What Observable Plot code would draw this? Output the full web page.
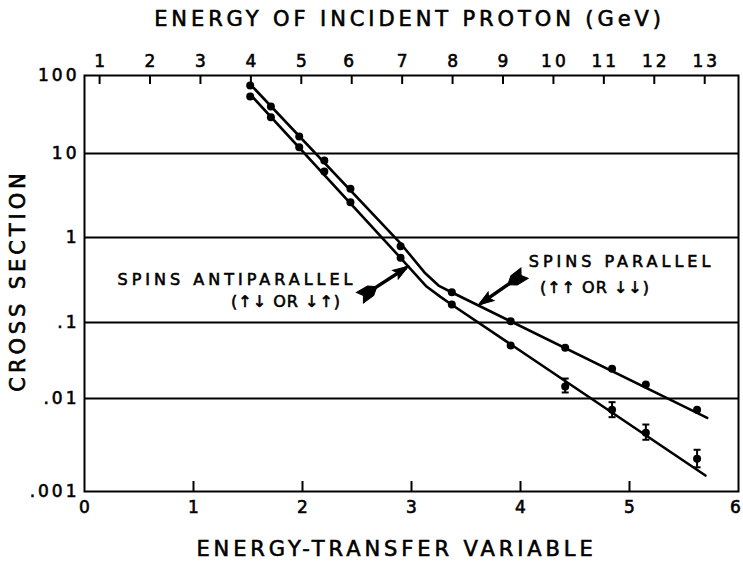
<!DOCTYPE html>
<html>
<head>
<meta charset="utf-8">
<script src="https://cdn.jsdelivr.net/npm/d3@7"></script>
<script src="https://cdn.jsdelivr.net/npm/@observablehq/plot@0.6"></script>
<style>
  html, body { margin: 0; padding: 0; background: #fff; }
  #chart svg { display: block; }
</style>
</head>
<body>
<div id="chart"></div>
<script>
// ---------- data ----------
// energy-transfer variable of each measured point (shared by both series)
const transfer = [1.52, 1.71, 1.97, 2.20, 2.44, 2.90, 3.37, 3.91, 4.41, 4.84, 5.15, 5.62];
// cross section, spins parallel (↑↑ or ↓↓)
const parallel = [74.5, 40.1, 16.5, 8.26, 3.80, 0.79, 0.227, 0.1035, 0.0465, 0.0246, 0.0153, 0.00755];
// cross section, spins antiparallel (↑↓ or ↓↑)
const antiparallel = [53.8, 29.2, 12.0, 6.1, 2.63, 0.577, 0.163, 0.0497, 0.0144, 0.00755, 0.00428, 0.00225];
// error bars on the antiparallel series (null = none drawn)
const antiErrLow  = [null, null, null, null, null, null, null, null, 0.0120, 0.0063, 0.0036, 0.00182];
const antiErrHigh = [null, null, null, null, null, null, null, null, 0.0183, 0.00913, 0.00525, 0.00281];

// hand-drawn fitted curves (knots)
const parallelFitX = [1.514, 2.908, 3.119, 3.248, 3.367, 5.713];
const parallelFitY = [78.9, 0.828, 0.388, 0.272, 0.227, 0.0062];
const antiFitX = [1.529, 2.899, 3.138, 3.266, 3.367, 5.697];
const antiFitY = [55.5, 0.577, 0.265, 0.200, 0.163, 0.001485];

// axes
const xTicks = [0, 1, 2, 3, 4, 5, 6];
const energyTicks = [1, 2, 3, 4, 5, 6, 7, 8, 9, 10, 11, 12, 13];
const energyCalib = [0.1385, 5.69]; // transfer-variable positions of 1 GeV and 13 GeV
const yDecades = [0.001, 0.01, 0.1, 1, 10, 100];
const yTickLabels = [".001", ".01", ".1", "1", "10", "100"];
const gridValues = [10, 1, 0.1, 0.01];

// text
const topTitle = "ENERGY OF INCIDENT PROTON (GeV)";
const bottomTitle = "ENERGY-TRANSFER VARIABLE";
const leftTitle = "CROSS SECTION";
const annotationText = ["SPINS ANTIPARALLEL", "(↑↓ OR ↓↑)", "SPINS PARALLEL", "(↑↑ OR ↓↓)"];
const annotationX = [1.399, 1.849, 4.927, 4.683];
const annotationY = [0.321, 0.174, 0.515, 0.255];
// pointer arrows (tail -> head)
const arrowTailX = [2.514, 4.046];
const arrowTailY = [0.191, 0.388];
const arrowHeadX = [2.954, 3.633];
const arrowHeadY = [0.444, 0.167];

// ---------- build ----------
const xDomain = [0, 6];
const yRange = [491, 398, 322, 237, 153, 75];
const margins = {left: 84, right: 5, top: 75, bottom: 70};
const W = 743, H = 561;

const energyScale = d3.scaleLinear().domain([1, 13]).range(energyCalib);
// mirrors of Plot's scales, only to orient the arrow glyphs
const xs = d3.scaleLinear(xDomain, [margins.left, W - margins.right]);
const ys = d3.scaleLog(yDecades, yRange);

const parPts = transfer.map((x, i) => ({x, y: parallel[i]}));
const antiPts = transfer.map((x, i) => ({x, y: antiparallel[i], lo: antiErrLow[i], hi: antiErrHigh[i]}));
const errPts = antiPts.filter(d => d.lo != null);
const parFit = parallelFitX.map((x, i) => ({x, y: parallelFitY[i]}));
const antiFit = antiFitX.map((x, i) => ({x, y: antiFitY[i]}));
const notes = annotationText.map((t, i) => ({t, x: annotationX[i], y: annotationY[i]}));
const arrows = arrowTailX.map((x, i) => {
  const a = {x1: x, y1: arrowTailY[i], x2: arrowHeadX[i], y2: arrowHeadY[i]};
  const dx = xs(a.x2) - xs(a.x1), dy = ys(a.y2) - ys(a.y1);
  a.angle = Math.atan2(dx, -dy) * 180 / Math.PI;
  return a;
});
const lerp = (a, t) => ({
  x: a.x1 + t * (a.x2 - a.x1),
  y: Math.exp(Math.log(a.y1) + t * (Math.log(a.y2) - Math.log(a.y1))),
  angle: a.angle
});
const shafts = arrows.map(a => {
  const p = lerp(a, 0.12);
  return {x1: p.x, y1: p.y, x2: a.x2, y2: a.y2};
});
const feathers = arrows.map(a => lerp(a, 0.2));
const heads = arrows.map(a => lerp(a, 0.86));

const capSymbol = {
  draw(ctx, size) {
    const r = Math.sqrt(size / Math.PI);
    ctx.moveTo(-r, 0);
    ctx.lineTo(r, 0);
  }
};
const headSymbol = {
  draw(ctx, size) {
    const r = Math.sqrt(size / Math.PI);
    ctx.moveTo(0, -r * 1.6);
    ctx.lineTo(r * 0.8, r * 0.8);
    ctx.lineTo(0, r * 0.35);
    ctx.lineTo(-r * 0.8, r * 0.8);
    ctx.closePath();
  }
};
const featherSymbol = {
  draw(ctx, size) {
    const r = Math.sqrt(size / Math.PI);
    ctx.moveTo(0, -r * 1.4);
    ctx.lineTo(r * 0.75, -r * 0.4);
    ctx.lineTo(r * 0.85, r * 1.3);
    ctx.lineTo(0, r * 0.75);
    ctx.lineTo(-r * 0.85, r * 1.3);
    ctx.lineTo(-r * 0.75, -r * 0.4);
    ctx.closePath();
  }
};

const FONT = "DejaVu Sans";

const chart = Plot.plot({
  width: W,
  height: H,
  marginLeft: margins.left,
  marginRight: margins.right,
  marginTop: margins.top,
  marginBottom: margins.bottom,
  style: {fontFamily: FONT, background: "white", color: "black"},
  x: {domain: xDomain},
  y: {type: "log", domain: yDecades, range: yRange},
  marks: [
    Plot.ruleY(gridValues, {stroke: "black", strokeWidth: 2}),
    Plot.frame({stroke: "black", strokeWidth: 2}),
    Plot.tickX(xTicks.slice(1, -1), {x: d => d, insetTop: 406, stroke: "black", strokeWidth: 2}),
    Plot.tickX(energyTicks, {x: d => energyScale(d), insetBottom: 407, stroke: "black", strokeWidth: 2}),
    Plot.axisX(xTicks, {anchor: "bottom", tickSize: 0, tickPadding: 9, fontSize: 17, dx: 1.5, label: null}),
    Plot.axisX(energyTicks.map(e => energyScale(e)), {
      anchor: "top", tickSize: 0, tickPadding: 9, fontSize: 17, dx: 1.5, label: null,
      tickFormat: d => String(Math.round(energyScale.invert(d)))
    }),
    Plot.axisY(yDecades, {
      anchor: "left", tickSize: 0, tickPadding: 5, fontSize: 17, label: null,
      tickFormat: d => yTickLabels[yDecades.indexOf(d)]
    }),
    // fitted curves
    Plot.line(parFit, {x: "x", y: "y", stroke: "black", strokeWidth: 2.6}),
    Plot.line(antiFit, {x: "x", y: "y", stroke: "black", strokeWidth: 2.6}),
    // error bars
    Plot.ruleX(errPts, {x: "x", y1: "lo", y2: "hi", stroke: "black", strokeWidth: 2}),
    Plot.dot(errPts, {x: "x", y: "lo", symbol: capSymbol, r: 3.5, stroke: "black", strokeWidth: 2}),
    Plot.dot(errPts, {x: "x", y: "hi", symbol: capSymbol, r: 3.5, stroke: "black", strokeWidth: 2}),
    // measured points
    Plot.dot(parPts, {x: "x", y: "y", r: 4, fill: "black"}),
    Plot.dot(antiPts, {x: "x", y: "y", r: 4, fill: "black"}),
    // pointer arrows (shaft, feathered tail, head)
    Plot.link(shafts, {x1: "x1", y1: "y1", x2: "x2", y2: "y2", stroke: "black", strokeWidth: 3.5}),
    Plot.dot(feathers, {x: "x", y: "y", symbol: featherSymbol, r: 7.5, rotate: "angle", fill: "black", stroke: "black", strokeWidth: 1}),
    Plot.dot(heads, {x: "x", y: "y", symbol: headSymbol, r: 6.5, rotate: "angle", fill: "black", stroke: "black", strokeWidth: 1}),
    // annotations
    Plot.text(notes, {x: "x", y: "y", text: "t", fontSize: 16, fill: "black", lineAnchor: "middle"}),
    // titles
    Plot.text([topTitle], {text: d => d, frameAnchor: "top", dy: -56, dx: -2, fontSize: 21, fill: "black", textAnchor: "middle", lineAnchor: "middle"}),
    Plot.text([bottomTitle], {text: d => d, frameAnchor: "bottom", dy: 58, dx: -15, fontSize: 21, fill: "black", textAnchor: "middle", lineAnchor: "middle"}),
    Plot.text([leftTitle], {text: d => d, frameAnchor: "left", dx: -66, dy: -3, rotate: -90, fontSize: 21, fill: "black", textAnchor: "middle", lineAnchor: "middle"})
  ]
});

// wide, heavy lettering like the original drafting stencil
const titleSet = new Set([topTitle, bottomTitle, leftTitle]);
const bigNotes = new Set(annotationText.filter((t, i) => i % 2 === 0));
const smallNotes = new Set(annotationText.filter((t, i) => i % 2 === 1));
d3.select(chart).selectAll("text").each(function () {
  const t = this.textContent;
  let ls = "3px";
  if (titleSet.has(t)) ls = "3.9px";
  else if (bigNotes.has(t)) ls = "4px";
  else if (smallNotes.has(t)) ls = "1px";
  this.style.letterSpacing = ls;
  this.style.stroke = "black";
  this.style.strokeWidth = "0.6px";
});
// keep the last bottom tick label ("6") inside the picture, as in the original
d3.select(chart).selectAll('g[aria-label="x-axis tick label"] text').each(function () {
  if (this.textContent === "6") this.setAttribute("dx", "-3");
});

document.getElementById("chart").appendChild(chart);
</script>
</body>
</html>
